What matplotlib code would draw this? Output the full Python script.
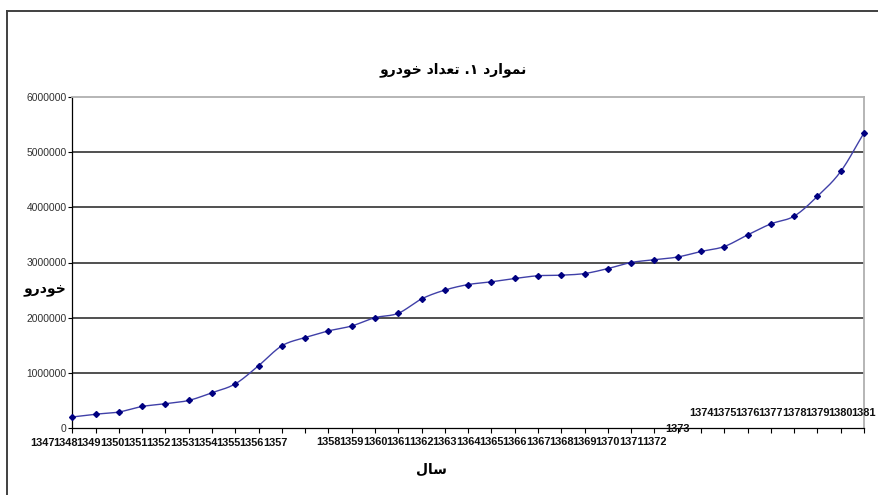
import matplotlib
matplotlib.use("Agg")
import matplotlib.pyplot as plt
import matplotlib.transforms as mtransforms
from matplotlib.lines import Line2D
import numpy as np

# ---------------- data ----------------
years = [str(y) for y in range(1347, 1382)]
vehicles = [200000, 250000, 290000, 390000, 440000, 500000, 640000, 800000,
            1130000, 1490000, 1640000, 1760000, 1850000, 2000000, 2080000,
            2340000, 2500000, 2600000, 2650000, 2710000, 2760000, 2770000,
            2800000, 2890000, 3000000, 3050000, 3100000, 3200000, 3290000,
            3500000, 3700000, 3840000, 4200000, 4650000, 5350000]
y_ticks = [0, 1000000, 2000000, 3000000, 4000000, 5000000, 6000000]

title_text = "نموارد ۱. تعداد خودرو"
xlabel_text = "سال"
ylabel_text = "خودرو"

# ---------------- simple Arabic shaping (presentation forms) ----------------
FORMS = {  # isolated, final, initial, medial
    'ا': ('\uFE8D', '\uFE8E', None, None),
    'د': ('\uFEA9', '\uFEAA', None, None),
    'ر': ('\uFEAD', '\uFEAE', None, None),
    'و': ('\uFEED', '\uFEEE', None, None),
    'ن': ('\uFEE5', '\uFEE6', '\uFEE7', '\uFEE8'),
    'م': ('\uFEE1', '\uFEE2', '\uFEE3', '\uFEE4'),
    'ت': ('\uFE95', '\uFE96', '\uFE97', '\uFE98'),
    'ع': ('\uFEC9', '\uFECA', '\uFECB', '\uFECC'),
    'خ': ('\uFEA5', '\uFEA6', '\uFEA7', '\uFEA8'),
    'س': ('\uFEB1', '\uFEB2', '\uFEB3', '\uFEB4'),
    'ل': ('\uFEDD', '\uFEDE', '\uFEDF', '\uFEE0'),
}


def shape(s):
    out = []
    n = len(s)
    for i, c in enumerate(s):
        if c not in FORMS:
            out.append(c)
            continue
        prev = s[i - 1] if i > 0 else None
        nxt = s[i + 1] if i < n - 1 else None
        join_prev = prev in FORMS and FORMS[prev][2] is not None
        join_next = FORMS[c][2] is not None and nxt in FORMS
        f = FORMS[c]
        if join_prev and join_next:
            out.append(f[3])
        elif join_prev:
            out.append(f[1])
        elif join_next:
            out.append(f[2])
        else:
            out.append(f[0])
    return ''.join(out)[::-1]


# ---------------- figure ----------------
W, H = 879, 495
fig = plt.figure(figsize=(W / 100, H / 100), dpi=100)
fig.patch.set_facecolor("white")

ax_left, ax_right, ax_top, ax_bottom = 72.3, 864, 97, 428
ax = fig.add_axes([ax_left / W, 1 - ax_bottom / H,
                   (ax_right - ax_left) / W, (ax_bottom - ax_top) / H])

x = np.arange(len(vehicles))
yv = np.array(vehicles, dtype=float)

# smoothed curve (Catmull-Rom through data points)
px = np.concatenate([[2 * x[0] - x[1]], x, [2 * x[-1] - x[-2]]]).astype(float)
py = np.concatenate([[2 * yv[0] - yv[1]], yv, [2 * yv[-1] - yv[-2]]])
cx, cy = [], []
t = np.linspace(0, 1, 20)
for i in range(1, len(px) - 2):
    p0, p1, p2, p3 = px[i - 1], px[i], px[i + 1], px[i + 2]
    q0, q1, q2, q3 = py[i - 1], py[i], py[i + 1], py[i + 2]
    cx.append(0.5 * (2 * p1 + (-p0 + p2) * t + (2 * p0 - 5 * p1 + 4 * p2 - p3) * t**2
                     + (-p0 + 3 * p1 - 3 * p2 + p3) * t**3))
    cy.append(0.5 * (2 * q1 + (-q0 + q2) * t + (2 * q0 - 5 * q1 + 4 * q2 - q3) * t**2
                     + (-q0 + 3 * q1 - 3 * q2 + q3) * t**3))
cx = np.concatenate(cx)
cy = np.concatenate(cy)

for yt in y_ticks[1:-1]:
    ax.axhline(yt, color="#202020", lw=1.1, zorder=1)

ax.plot(cx, cy, color="#4040a8", lw=1.0, zorder=3, clip_on=False)
ax.plot(x, yv, linestyle="none", marker="D", ms=3.0, color="#000080",
        zorder=4, clip_on=False)

ax.set_xlim(0, len(vehicles) - 1)
ax.set_ylim(0, 6000000)
ax.set_yticks(y_ticks)
ax.set_yticklabels([str(v) for v in y_ticks], fontsize=7.4,
                   family="Liberation Sans", color="#303030")
ax.set_xticks(x)
ax.set_xticklabels([])
ax.tick_params(axis="x", direction="out", length=3.5, width=0.8, color="black")
ax.tick_params(axis="y", direction="out", length=3, width=0.8, color="black", pad=1)

for s in ("top", "right"):
    ax.spines[s].set_color("#b0b0b0")
    ax.spines[s].set_linewidth(1.3)
for s in ("left", "bottom"):
    ax.spines[s].set_color("black")
    ax.spines[s].set_linewidth(0.9)

# x tick labels (staggered as in the original rendering)
groups = [(0, 11, -30, 15), (11, 26, 0, 14), (26, 27, 0, 1), (27, 35, 0, -15)]
for a, b, dxp, dyp in groups:
    off = mtransforms.ScaledTranslation(dxp / 100, -dyp / 100, fig.dpi_scale_trans)
    tr = mtransforms.blended_transform_factory(ax.transData, ax.transAxes) + off
    for i in range(a, b):
        ax.text(x[i], 0, years[i], transform=tr, ha="center", va="center",
                fontsize=7.9, fontweight="bold", family="Liberation Sans",
                color="#101010", clip_on=False)

fig.text(453 / W, 1 - 70 / H, shape(title_text), ha="center", va="center",
         fontsize=10, fontweight="bold", family="DejaVu Sans")
fig.text(431 / W, 1 - 470 / H, shape(xlabel_text), ha="center", va="center",
         fontsize=10, fontweight="bold", family="DejaVu Sans")
fig.text(45 / W, 1 - 290 / H, shape(ylabel_text), ha="center", va="center",
         fontsize=10, fontweight="bold", family="DejaVu Sans")

# outer frame (top and left edges)
fig.add_artist(Line2D([7 / W, 1.0], [1 - 11 / H, 1 - 11 / H],
                      transform=fig.transFigure, color="#404040", lw=1.4))
fig.add_artist(Line2D([7 / W, 7 / W], [0, 1 - 11 / H],
                      transform=fig.transFigure, color="#404040", lw=1.4))

fig.savefig("out.png", dpi=100, facecolor="white")
